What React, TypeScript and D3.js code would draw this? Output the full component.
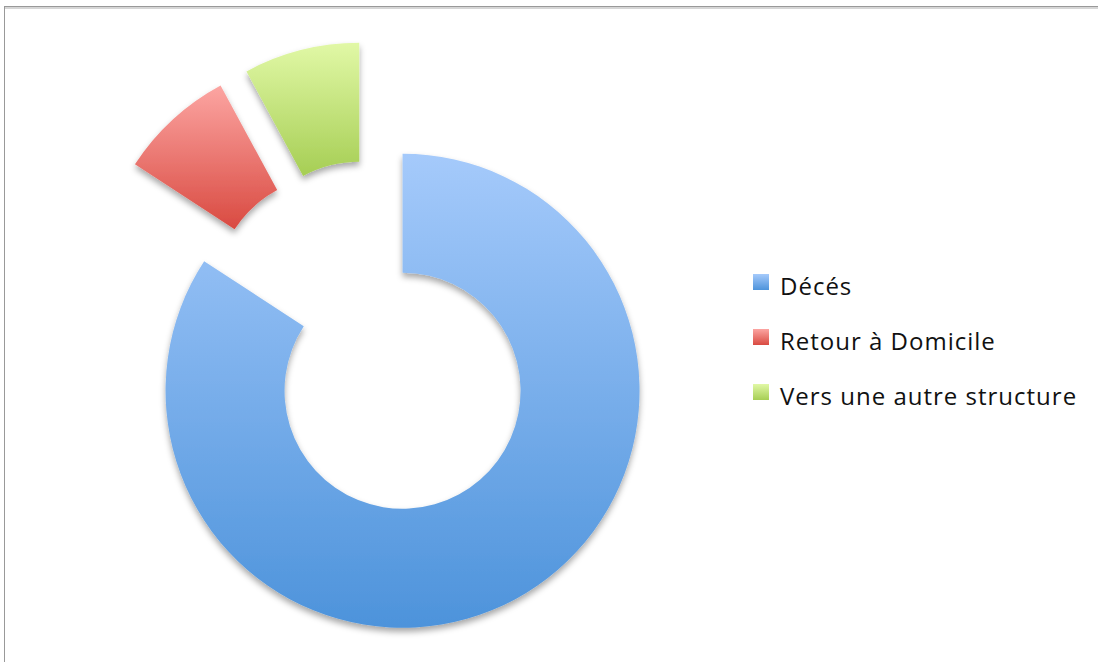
import React from "react";
import * as d3 from "d3";

const categories = ["Décés", "Retour à Domicile", "Vers une autre structure"];
const values = [64, 6, 6];
const topColors = ["#a5cafb", "#fca5a2", "#e1f8a6"];
const bottomColors = ["#4d93db", "#d94a41", "#a6ce54"];

const W = 1098;
const H = 662;
const cx = 374;
const cy = 338;
const outerR = 237;
const innerR = 118;
const explode = 60;

export default function App() {
  const pie = d3
    .pie<number>()
    .sort(null)
    .startAngle(0)
    .endAngle(2 * Math.PI)
    .value((d) => d);
  const arcs = pie(values);
  const arcGen = d3.arc<d3.PieArcDatum<number>>().innerRadius(innerR).outerRadius(outerR);

  return (
    <svg
      width={W}
      height={H}
      style={{ position: "absolute", left: 0, top: 0, display: "block", background: "#fff" }}
    >
      <defs>
        {arcs.map((a, i) => (
          <linearGradient key={i} id={`g${i}`} x1="0" y1="0" x2="0" y2="1">
            <stop offset="0%" stopColor={topColors[i]} />
            <stop offset="100%" stopColor={bottomColors[i]} />
          </linearGradient>
        ))}
        {categories.map((c, i) => (
          <linearGradient key={c} id={`lg${i}`} x1="0" y1="0" x2="0" y2="1">
            <stop offset="0%" stopColor={topColors[i]} />
            <stop offset="100%" stopColor={bottomColors[i]} />
          </linearGradient>
        ))}
        <filter id="shadow" x="-20%" y="-20%" width="140%" height="140%">
          <feDropShadow dx="0" dy="4" stdDeviation="3" floodColor="#000" floodOpacity="0.35" />
        </filter>
      </defs>
      <rect x={4.5} y={6.5} width={W + 10} height={H + 10} fill="#fff" stroke="#999" strokeWidth={1} />
      <line x1={5} y1={8} x2={W} y2={8} stroke="#d6d6d6" strokeWidth={2} />
      <g transform={`translate(${cx},${cy})`}>
        {arcs.map((a, i) => {
          const mid = (a.startAngle + a.endAngle) / 2;
          const dx = explode * Math.sin(mid);
          const dy = -explode * Math.cos(mid);
          return (
            <path
              key={i}
              d={arcGen(a) || ""}
              transform={`translate(${dx},${dy})`}
              fill={`url(#g${i})`}
              filter="url(#shadow)"
            />
          );
        })}
      </g>
      <g>
        {categories.map((c, i) => (
          <g key={c} transform={`translate(753,${274 + i * 55})`}>
            <rect x={0} y={0} width={16} height={16} fill={`url(#lg${i})`} />
            <text
              x={27}
              y={21}
              fontFamily="'Open Sans', sans-serif"
              fontSize={24}
              letterSpacing={1}
              fill="#111"
            >
              {c}
            </text>
          </g>
        ))}
      </g>
    </svg>
  );
}
